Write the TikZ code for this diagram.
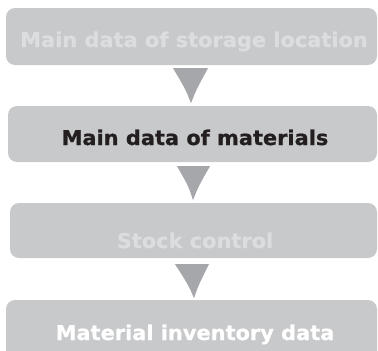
\documentclass[tikz,border=0pt]{standalone}
\usepackage{fontspec}
\newfontfamily\vfont[FakeStretch=1.03,FakeBold=0.8]{DejaVu Sans}
\usetikzlibrary{calc}
\definecolor{boxc}{HTML}{C8C9CB}
\definecolor{arrc}{HTML}{A6A7AA}
\definecolor{faint}{HTML}{DCDDDF}
\definecolor{darkt}{HTML}{231F20}
\tikzset{
  box/.style={rectangle, fill=boxc, rounded corners=9pt, inner sep=0pt},
  lbl/.style={font=\vfont\bfseries\fontsize{20.3}{22}\selectfont, inner sep=0pt, anchor=base},
  arr/.style={fill=arrc}
}
\begin{document}
\begin{tikzpicture}[x=1pt,y=-1pt]
\clip (0,0) rectangle (378,351);
\fill[white] (0,0) rectangle (378,351);
\node[box, minimum width=371pt, minimum height=57pt] (b1) at (191.5,36.5) {};
\node[box, minimum width=369pt, minimum height=56pt] (b2) at (192.5,134) {};
\node[box, minimum width=367pt, minimum height=55pt] (b3) at (193.5,230.5) {};
\node[box, minimum width=371pt, minimum height=70pt] (b4) at (191.5,335) {};
\node[lbl, text=faint] (t1) at (194,47) {Main data of storage location};
\node[lbl, text=darkt] (t2) at (195,145) {Main data of materials};
\node[lbl, text=faint] (t3) at (195,248) {Stock control};
\node[lbl, text=white] (t4) at (195,340) {Material inventory data};
% connectors
\fill[arr] ($(b1.south)+(-18.5,3)$) -- ($(b1.south)+(16.5,3)$)
  .. controls ($(b1.south)+(5,24)$) .. ($(b1.south)+(-0.5,38)$)
  .. controls ($(b1.south)+(-6,24)$) .. cycle;
\fill[arr] ($(b2.south)+(-15.5,4)$) -- ($(b2.south)+(17.5,4)$)
  .. controls ($(b2.south)+(6,24)$) .. ($(b2.south)+(0.5,38)$)
  .. controls ($(b2.south)+(-4,24)$) .. cycle;
\fill[arr] ($(b3.south)+(-18.5,6)$) -- ($(b3.south)+(15.5,6)$)
  .. controls ($(b3.south)+(5,27)$) .. ($(b3.south)+(0.5,40)$)
  .. controls ($(b3.south)+(-5,27)$) .. cycle;
\end{tikzpicture}
\end{document}
